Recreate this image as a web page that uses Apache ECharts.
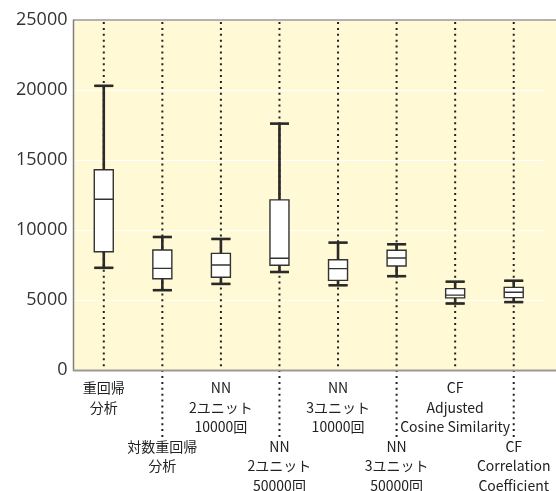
<!DOCTYPE html>
<html>
<head>
<meta charset="utf-8">
<script src="https://cdn.jsdelivr.net/npm/echarts@6/dist/echarts.min.js"></script>
<style>html,body{margin:0;padding:0;background:#fff}#c{width:556px;height:491px}</style>
</head>
<body>
<div id="c"></div>
<script>
var categories = [
  '重回帰\n分析',
  '対数重回帰\n分析',
  'NN\n2ユニット\n10000回',
  'NN\n2ユニット\n50000回',
  'NN\n3ユニット\n10000回',
  'NN\n3ユニット\n50000回',
  'CF\nAdjusted\nCosine Similarity',
  'CF\nCorrelation\nCoefficient'
];
var mins    = [7300, 5700, 6150, 7000, 6050, 6700, 4750, 4850];
var q1s     = [8450, 6520, 6620, 7480, 6400, 7430, 5150, 5170];
var medians = [12200, 7260, 7500, 7980, 7240, 8000, 5350, 5550];
var q3s     = [14300, 8570, 8330, 12150, 7880, 8550, 5810, 5900];
var maxs    = [20300, 9500, 9360, 17600, 9100, 8980, 6310, 6380];
var yTicks  = [0, 5000, 10000, 15000, 20000, 25000];

var yMin = yTicks[0], yMax = yTicks[yTicks.length - 1];
var boxData = categories.map(function (c, i) {
  return [mins[i], q1s[i], medians[i], q3s[i], maxs[i]];
});
var whiskerData = categories.map(function (c, i) {
  return [i, mins[i], q1s[i], q3s[i], maxs[i]];
});
var guideData = categories.map(function (c, i) { return [i]; });

var chart = echarts.init(document.getElementById('c'), null, {renderer: 'canvas'});
var BOXW = 19;
chart.setOption({
  animation: false,
  graphic: [
    {type: 'rect', z: -10, shape: {x: 73.5, y: 20, width: 483, height: 350}, style: {fill: '#FFF9D5'}},
    {type: 'line', z: 50, shape: {x1: 73.5, y1: 20, x2: 556, y2: 20}, style: {stroke: '#999', lineWidth: 1.5}},
    {type: 'line', z: 50, shape: {x1: 73.5, y1: 19.5, x2: 73.5, y2: 371}, style: {stroke: '#808080', lineWidth: 1.5}},
    {type: 'line', z: 50, shape: {x1: 73, y1: 370.5, x2: 556, y2: 370.5}, style: {stroke: '#999', lineWidth: 2}}
  ],
  grid: {left: 74.5, right: 13, top: 20, bottom: 121, containLabel: false, outerBoundsMode: 'none'},
  xAxis: {
    type: 'category',
    data: categories,
    boundaryGap: true,
    axisLine: {show: false},
    axisTick: {show: false},
    splitLine: {show: false},
    axisLabel: {
      interval: 0,
      margin: 8,
      fontSize: 14,
      lineHeight: 19.5,
      color: '#222',
      fontFamily: '"Noto Sans CJK JP", sans-serif',
      formatter: function (v, i) { return (i % 2 === 1) ? '\n\n\n' + v : v; }
    }
  },
  yAxis: {
    type: 'value',
    min: yMin, max: yMax, interval: 5000,
    axisLine: {show: false},
    axisTick: {show: false},
    splitLine: {show: true, lineStyle: {color: '#ffffff', width: 1}},
    axisLabel: {
      margin: 7,
      fontSize: 18,
      color: '#333',
      fontFamily: '"Open Sans", sans-serif',
      formatter: function (v) { return String(v); }
    }
  },
  series: [
    {
      type: 'custom',
      z: 1,
      clip: false,
      data: guideData,
      renderItem: function (params, api) {
        var i = api.value(0);
        var top = api.coord([i, yMax]);
        var bot = api.coord([i, yMin]);
        var ext = (i % 2 === 1) ? 67 : 0;
        return {
          type: 'line',
          shape: {x1: top[0], y1: top[1] + 2, x2: bot[0], y2: bot[1] + ext},
          style: {stroke: '#222', lineWidth: 2, lineDash: [2, 3.9]}
        };
      }
    },
    {
      type: 'boxplot',
      z: 2,
      data: boxData,
      boxWidth: [BOXW, BOXW],
      itemStyle: {color: '#ffffff', borderColor: '#333', borderWidth: 1.4}
    },
    {
      type: 'custom',
      z: 3,
      data: whiskerData,
      renderItem: function (params, api) {
        var i = api.value(0);
        var pMin = api.coord([i, api.value(1)]);
        var pQ1 = api.coord([i, api.value(2)]);
        var pQ3 = api.coord([i, api.value(3)]);
        var pMax = api.coord([i, api.value(4)]);
        var h = BOXW / 2;
        var st = {stroke: '#2a2a2a', lineWidth: 2.6};
        return {
          type: 'group',
          children: [
            {type: 'line', shape: {x1: pMax[0], y1: pMax[1], x2: pQ3[0], y2: pQ3[1]}, style: st},
            {type: 'line', shape: {x1: pMax[0] - h, y1: pMax[1], x2: pMax[0] + h, y2: pMax[1]}, style: st},
            {type: 'line', shape: {x1: pMin[0], y1: pMin[1], x2: pQ1[0], y2: pQ1[1]}, style: st},
            {type: 'line', shape: {x1: pMin[0] - h, y1: pMin[1], x2: pMin[0] + h, y2: pMin[1]}, style: st}
          ]
        };
      }
    }
  ]
});
</script>
</body>
</html>
